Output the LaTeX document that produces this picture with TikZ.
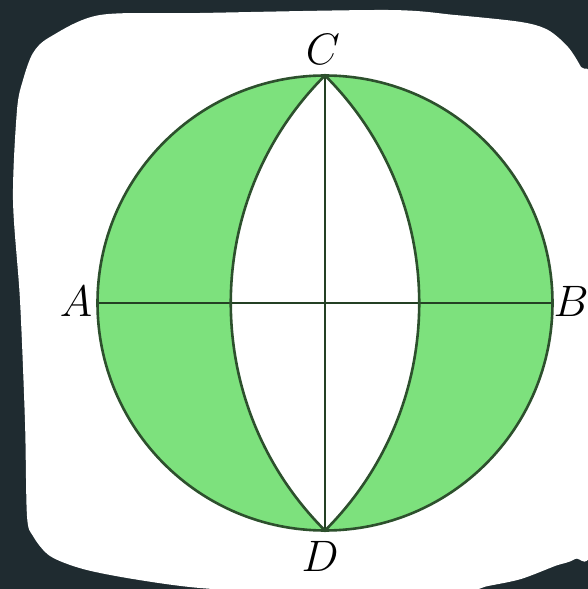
\documentclass[tikz,border=0pt]{standalone}
\usepackage{tikz}
\definecolor{board}{RGB}{31,43,48}
\definecolor{lensgreen}{RGB}{125,225,125}
\definecolor{edge}{RGB}{45,80,45}
\newcommand{\biglbl}[1]{\scalebox{1.77}{$#1$}}
\tikzset{
  outline/.style={draw=edge,line width=2.6pt},
  axis/.style={draw=edge!80!black,line width=1.4pt},
  lbl/.style={font=\Huge,inner sep=0pt}
}
\begin{document}
\begin{tikzpicture}[x=1pt,y=1pt]
\useasboundingbox (-325,-286) rectangle (263,303);
\fill[board] (-325,-286) rectangle (263,303);
\fill[white] plot[smooth cycle,tension=0.5] coordinates {
 (-308,193) (-302,223) (-292,250) (-275,266) (-225,288) (-125,290) (63,293)
 (130,288) (196,281) (223,273) (243,256) (256,236) (267,213) (269,3)
 (267,-237) (250,-256) (230,-263) (196,-276) (163,-283) (130,-289)
 (-25,-290) (-125,-285) (-192,-276) (-242,-266) (-275,-253) (-292,-233)
 (-298,-213) (-300,-119) (-305,3) (-312,103)};
\def\r{227.5}
\def\R{321.73}
\coordinate (O) at (0,0);
\coordinate (A) at (-\r,0);
\coordinate (B) at (\r,0);
\coordinate (C) at (0,\r);
\coordinate (D) at (0,-\r);
\fill[lensgreen] (O) circle[radius=\r];
\fill[white] (C) arc[start angle=135,end angle=225,radius=\R]
   arc[start angle=-45,end angle=45,radius=\R] -- cycle;
\draw[axis] (A) -- (B);
\draw[axis] (C) -- (D);
\draw[outline] (C) arc[start angle=135,end angle=225,radius=\R]
   arc[start angle=-45,end angle=45,radius=\R] -- cycle;
\draw[outline] (O) circle[radius=\r];
\node[lbl] (lA) at (-249,2) {\biglbl{A}};
\node[lbl] (lB) at (246,2) {\biglbl{B}};
\node[lbl] (lC) at (-2,254) {\biglbl{C}};
\node[lbl] (lD) at (-5,-253) {\biglbl{D}};
\end{tikzpicture}
\end{document}
